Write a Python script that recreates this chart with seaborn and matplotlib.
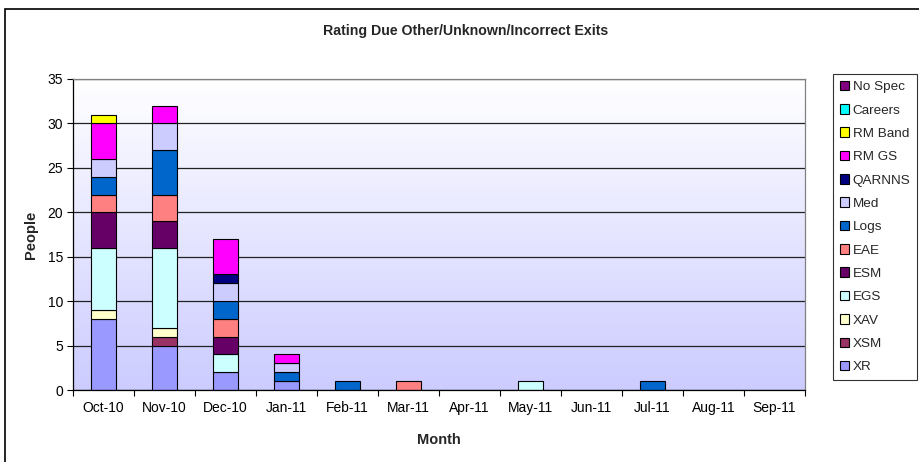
import numpy as np
import pandas as pd
import matplotlib.pyplot as plt
import matplotlib.patches as mpatches
import seaborn as sns

# months on the x axis
months = ["Oct-10", "Nov-10", "Dec-10", "Jan-11", "Feb-11", "Mar-11",
          "Apr-11", "May-11", "Jun-11", "Jul-11", "Aug-11", "Sep-11"]

# people per exit category, one value per month
xr      = [8, 5, 2, 1, 0, 0, 0, 0, 0, 0, 0, 0]
xsm     = [0, 1, 0, 0, 0, 0, 0, 0, 0, 0, 0, 0]
xav     = [1, 1, 0, 0, 0, 0, 0, 0, 0, 0, 0, 0]
egs     = [7, 9, 2, 0, 0, 0, 0, 1, 0, 0, 0, 0]
esm     = [4, 3, 2, 0, 0, 0, 0, 0, 0, 0, 0, 0]
eae     = [2, 3, 2, 0, 0, 1, 0, 0, 0, 0, 0, 0]
logs    = [2, 5, 2, 1, 1, 0, 0, 0, 0, 1, 0, 0]
med     = [2, 3, 2, 1, 0, 0, 0, 0, 0, 0, 0, 0]
qarnns  = [0, 0, 1, 0, 0, 0, 0, 0, 0, 0, 0, 0]
rm_gs   = [4, 2, 4, 1, 0, 0, 0, 0, 0, 0, 0, 0]
rm_band = [1, 0, 0, 0, 0, 0, 0, 0, 0, 0, 0, 0]
careers = [0, 0, 0, 0, 0, 0, 0, 0, 0, 0, 0, 0]
no_spec = [0, 0, 0, 0, 0, 0, 0, 0, 0, 0, 0, 0]

# legend order (top of stack first)
categories = ["No Spec", "Careers", "RM Band", "RM GS", "QARNNS", "Med", "Logs",
              "EAE", "ESM", "EGS", "XAV", "XSM", "XR"]
values = [no_spec, careers, rm_band, rm_gs, qarnns, med, logs,
          eae, esm, egs, xav, xsm, xr]
colors = ["#800080", "#00FFFF", "#FFFF00", "#FF00FF", "#000080", "#CCCCFF", "#0066CC",
          "#FF8080", "#660066", "#CCFFFF", "#FFFFCC", "#993366", "#9999FF"]

# long format table for seaborn
rows = []
for cat, vals in zip(categories, values):
    for i, v in enumerate(vals):
        if v > 0:
            rows.append({"month": i, "category": cat, "people": v})
df = pd.DataFrame(rows)

sns.set_theme(style="white")
plt.rcParams['font.family'] = ['Liberation Sans', 'DejaVu Sans']

fig = plt.figure(figsize=(9.2, 4.62), dpi=100)
ax = fig.add_axes([73/920, 1 - 390/462, 732/920, 311/462])

# gradient plot area background (white at top to lavender at bottom)
grad = np.linspace(0, 1, 256).reshape(-1, 1)
top = np.array([1.0, 1.0, 1.0])
bottom = np.array([0.8, 0.8, 1.0])
img = top + (bottom - top) * grad[:, :, None]
ax.imshow(img, extent=[-0.5, 11.5, 0, 35], aspect="auto", origin="upper", zorder=0)

sns.histplot(data=df, x="month", hue="category", weights="people",
             hue_order=categories, palette=dict(zip(categories, colors)),
             multiple="stack", discrete=True, shrink=0.4, alpha=1,
             edgecolor="black", linewidth=0.8, legend=False, ax=ax, zorder=2)

# hide zero-height rectangles
for p in ax.patches:
    if p.get_height() == 0:
        p.set_visible(False)

ax.set_xlim(-0.5, 11.5)
ax.set_ylim(0, 35)
ax.set_yticks(range(0, 36, 5))
ax.set_xticks(range(12))
ax.set_xticklabels(months)
ax.set_xticks(np.arange(-0.5, 12, 1), minor=True)
ax.tick_params(axis="x", which="major", length=0, labelsize=10, pad=8, colors="black")
ax.tick_params(axis="x", which="minor", length=4, width=0.8, direction="out", bottom=True, color="black")
ax.tick_params(axis="y", length=4, width=0.8, direction="out", left=True, labelsize=10, pad=3, colors="black")

ax.set_axisbelow(True)
ax.yaxis.grid(True, color="#222222", linewidth=0.9)
ax.xaxis.grid(False)

for side in ["left", "bottom"]:
    ax.spines[side].set_color("black")
    ax.spines[side].set_linewidth(0.9)
for side in ["top", "right"]:
    ax.spines[side].set_color("#808080")
    ax.spines[side].set_linewidth(0.9)

ax.set_xlabel("Month", fontsize=10.5, fontweight="bold", labelpad=13)
ax.set_ylabel("People", fontsize=10.5, fontweight="bold", labelpad=7)

fig.text(466/920, 1 - 31/462, "Rating Due Other/Unknown/Incorrect Exits",
         ha="center", va="center", fontsize=10.2, fontweight="bold")

handles = [mpatches.Patch(facecolor=c, edgecolor="black", linewidth=0.8, label=n)
           for n, c in zip(categories, colors)]
leg = fig.legend(handles=handles, loc="upper left", bbox_to_anchor=(833/920, 1 - 74/462),
                 frameon=True, fancybox=False, fontsize=9.7, handlelength=0.7,
                 handleheight=0.7, handletextpad=0.25, labelspacing=0.81,
                 borderpad=0.5, borderaxespad=0)
leg.get_frame().set_edgecolor("black")
leg.get_frame().set_linewidth(0.8)

# chart border
fig.patches.append(mpatches.Rectangle((5/920, -0.1), 2, 1 - 9/462 + 0.1,
                                      transform=fig.transFigure, fill=False,
                                      edgecolor="black", linewidth=1.2))

fig.savefig("out.png", dpi=100)
